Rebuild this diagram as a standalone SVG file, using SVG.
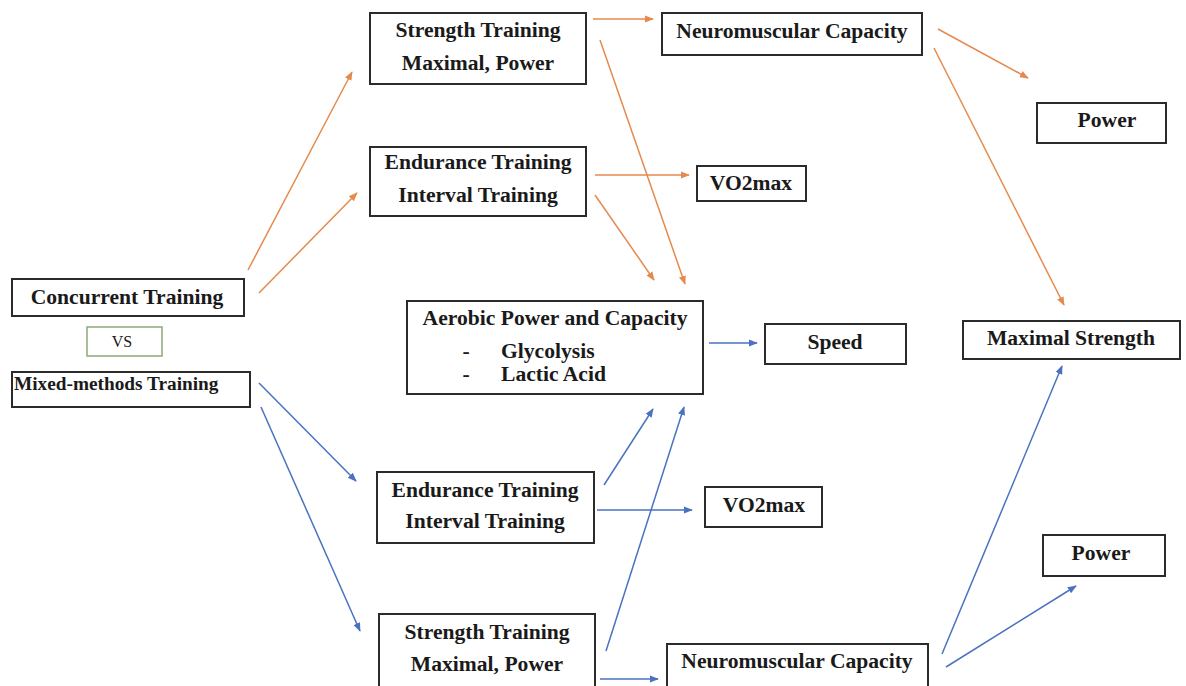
<svg xmlns="http://www.w3.org/2000/svg" width="1186" height="686" viewBox="0 0 1186 686">
<defs>
<marker id="ao" viewBox="0 0 10 10" refX="9" refY="5" markerWidth="9" markerHeight="9" markerUnits="userSpaceOnUse" orient="auto"><path d="M0,1 L10,5 L0,9 Z" fill="#E58A4E"/></marker>
<marker id="ab" viewBox="0 0 10 10" refX="9" refY="5" markerWidth="9" markerHeight="9" markerUnits="userSpaceOnUse" orient="auto"><path d="M0,1 L10,5 L0,9 Z" fill="#4A72C0"/></marker>
<style>
.box{fill:#fff;stroke:#2b2b2b;stroke-width:2}
.vs{fill:#fff;stroke:#8FA87A;stroke-width:1.5}
.t{font-family:"Liberation Serif","Times New Roman",serif;font-weight:bold;font-size:21.6px;fill:#1a1a1a;text-anchor:middle}
.o{stroke:#E58A4E;stroke-width:1.5;fill:none;marker-end:url(#ao)}
.b{stroke:#4A72C0;stroke-width:1.5;fill:none;marker-end:url(#ab)}
</style>
</defs>
<rect width="1186" height="686" fill="#fff"/>
<g id="connectors">
<line class="o" x1="248" y1="270" x2="352" y2="72"/>
<line class="o" x1="259" y1="293" x2="357" y2="193"/>
<line class="o" x1="593" y1="19" x2="653" y2="19"/>
<line class="o" x1="600" y1="40" x2="685" y2="284"/>
<line class="o" x1="595" y1="175" x2="689" y2="175"/>
<line class="o" x1="595" y1="195" x2="654" y2="280"/>
<line class="o" x1="938" y1="29" x2="1028" y2="78"/>
<line class="o" x1="934" y1="48" x2="1064" y2="305"/>
<line class="b" x1="259" y1="383" x2="356" y2="481"/>
<line class="b" x1="261" y1="407" x2="360" y2="631"/>
<line class="b" x1="709" y1="343" x2="757" y2="343"/>
<line class="b" x1="604" y1="485" x2="653" y2="409"/>
<line class="b" x1="606" y1="651" x2="684" y2="407"/>
<line class="b" x1="597" y1="510" x2="692" y2="510"/>
<line class="b" x1="600" y1="679" x2="658" y2="679"/>
<line class="b" x1="942" y1="654" x2="1062" y2="366"/>
<line class="b" x1="946" y1="667" x2="1076" y2="586"/>
</g>
<g id="concurrent"><rect class="box" x="12" y="279" width="232" height="37"/><text class="t" x="127" y="304">Concurrent Training</text></g>
<g id="vs"><rect class="vs" x="87" y="327" width="75" height="29"/><text x="122" y="347" font-family="Liberation Serif, serif" font-size="16" fill="#1a1a1a" text-anchor="middle">VS</text></g>
<g id="mixed"><rect class="box" x="12" y="372" width="238" height="35"/><text class="t" x="14" y="390" style="text-anchor:start;font-size:19.3px">Mixed-methods Training</text></g>
<g id="strength-top"><rect class="box" x="370" y="13" width="216" height="71"/><text class="t" x="478" y="37">Strength Training</text><text class="t" x="478" y="70">Maximal, Power</text></g>
<g id="neuro-top"><rect class="box" x="662" y="13" width="260" height="42"/><text class="t" x="792" y="38">Neuromuscular Capacity</text></g>
<g id="power-top"><rect class="box" x="1037" y="103" width="129" height="40"/><text class="t" x="1107" y="127">Power</text></g>
<g id="endurance-top"><rect class="box" x="370" y="147" width="216" height="69"/><text class="t" x="478" y="169">Endurance Training</text><text class="t" x="478" y="202">Interval Training</text></g>
<g id="vo2-top"><rect class="box" x="697" y="166" width="109" height="35"/><text class="t" x="751" y="190">VO2max</text></g>
<g id="aerobic"><rect class="box" x="407" y="301" width="296" height="93"/><text class="t" x="555" y="325">Aerobic Power and Capacity</text><text class="t" x="466" y="358">-</text><text class="t" x="501" y="358" style="text-anchor:start">Glycolysis</text><text class="t" x="466" y="381">-</text><text class="t" x="501" y="381" style="text-anchor:start">Lactic Acid</text></g>
<g id="speed"><rect class="box" x="765" y="324" width="141" height="40"/><text class="t" x="835" y="349">Speed</text></g>
<g id="max-strength"><rect class="box" x="963" y="321" width="217" height="38"/><text class="t" x="1071" y="345">Maximal Strength</text></g>
<g id="endurance-bottom"><rect class="box" x="377" y="472" width="217" height="71"/><text class="t" x="485" y="497">Endurance Training</text><text class="t" x="485" y="528">Interval Training</text></g>
<g id="vo2-bottom"><rect class="box" x="705" y="487" width="117" height="40"/><text class="t" x="764" y="512">VO2max</text></g>
<g id="strength-bottom"><rect class="box" x="379" y="614" width="216" height="80"/><text class="t" x="487" y="639">Strength Training</text><text class="t" x="487" y="671">Maximal, Power</text></g>
<g id="neuro-bottom"><rect class="box" x="667" y="644" width="261" height="50"/><text class="t" x="797" y="668">Neuromuscular Capacity</text></g>
<g id="power-bottom"><rect class="box" x="1043" y="535" width="122" height="41"/><text class="t" x="1101" y="560">Power</text></g>
</svg>
